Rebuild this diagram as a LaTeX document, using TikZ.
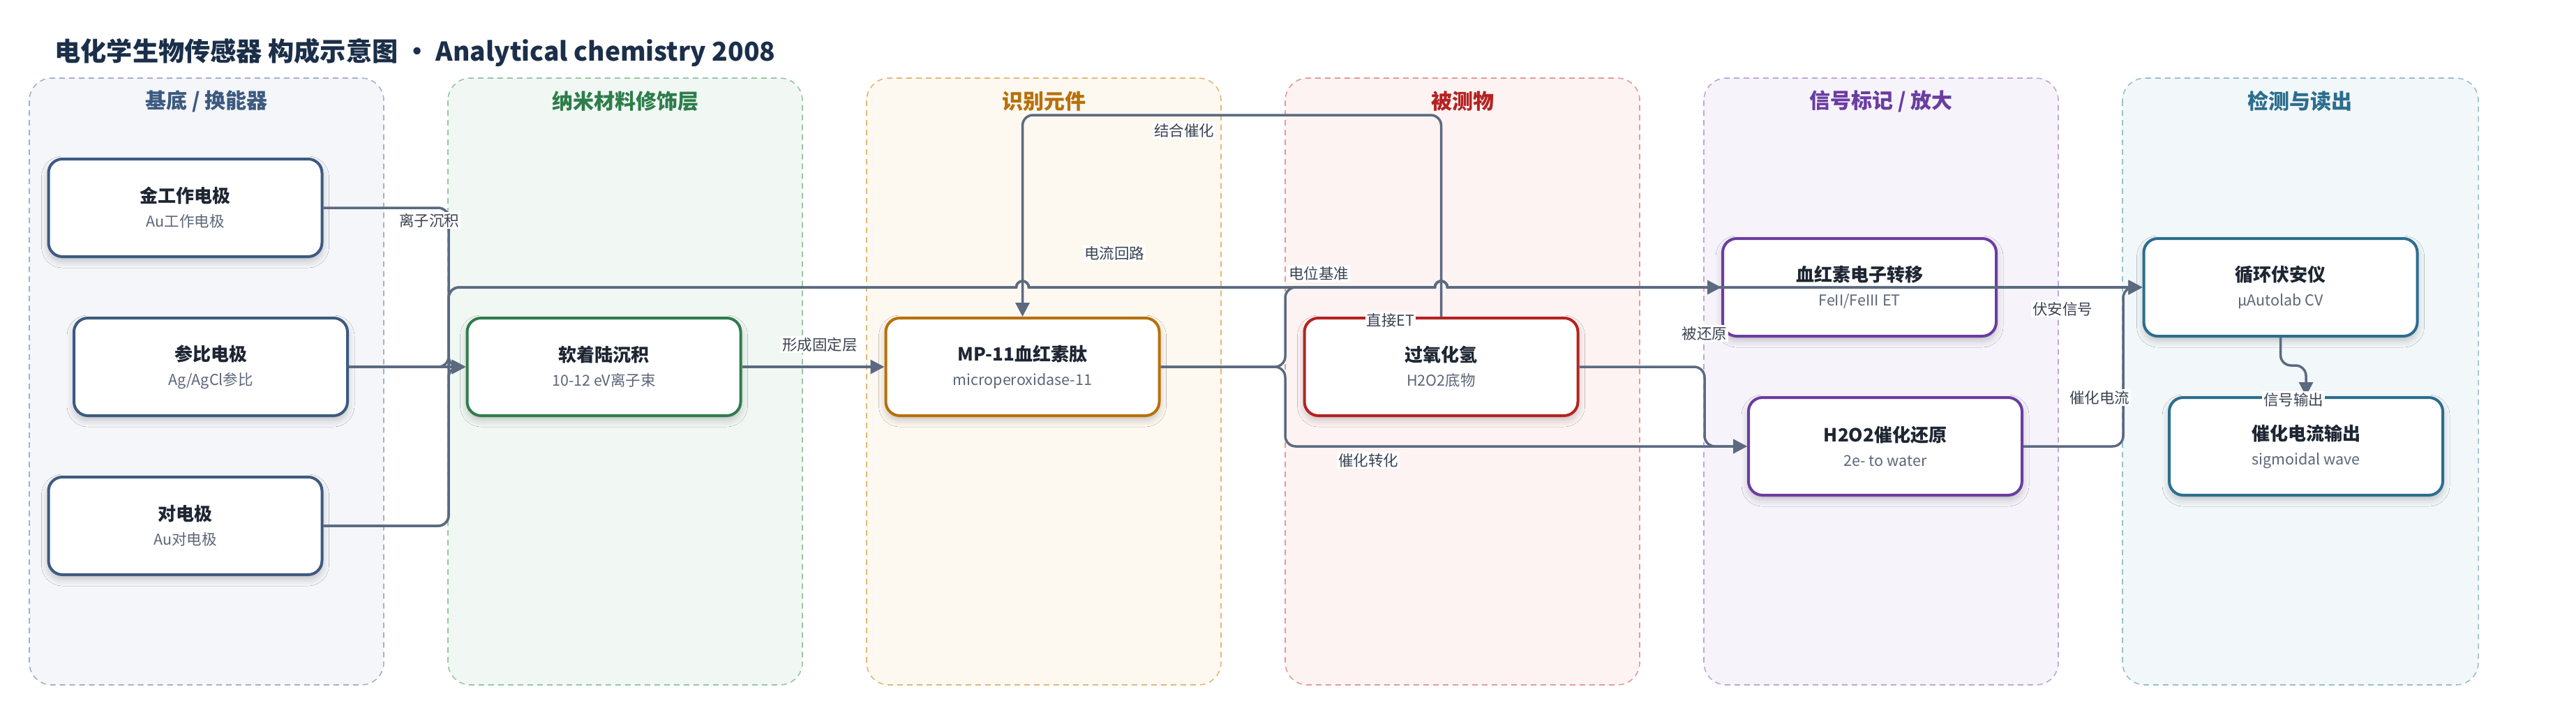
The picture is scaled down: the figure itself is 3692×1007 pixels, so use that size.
\documentclass[tikz,border=0pt]{standalone}
\usepackage{fontspec}
\setmainfont{Noto Sans CJK SC}
\usetikzlibrary{arrows.meta,shadows.blur}
\definecolor{ttl}{HTML}{1B2F4A}
\definecolor{ntc}{HTML}{1E2633}
\definecolor{nsc}{HTML}{5B6678}
\definecolor{labc}{HTML}{3A4352}
\definecolor{edgec}{HTML}{5B6A80}
% lanes: fill, border, title/node colour
\definecolor{fA}{HTML}{F4F6FA}\definecolor{bA}{HTML}{A3B1C8}\definecolor{tA}{HTML}{3D5A80}
\definecolor{fB}{HTML}{F1F8F4}\definecolor{bB}{HTML}{96C6A6}\definecolor{tB}{HTML}{2E7D4B}
\definecolor{fC}{HTML}{FDF8F0}\definecolor{bC}{HTML}{E2B878}\definecolor{tC}{HTML}{B8700A}
\definecolor{fD}{HTML}{FDF3F2}\definecolor{bD}{HTML}{E49A9A}\definecolor{tD}{HTML}{B52222}
\definecolor{fE}{HTML}{F6F3FB}\definecolor{bE}{HTML}{BFA6DA}\definecolor{tE}{HTML}{6A3DA0}
\definecolor{fF}{HTML}{F2F7F9}\definecolor{bF}{HTML}{98BFCE}\definecolor{tF}{HTML}{2B6E8E}
\newcommand\ntl[1]{{\fontsize{13}{17.5}\selectfont\bfseries\color{ntc}#1}}
\newcommand\nsub[1]{{\fontsize{10.75}{17.5}\selectfont\color{nsc}#1}}
\begin{document}
\begin{tikzpicture}[x=0.5pt,y=-0.5pt,
  lanebox/.style={dash pattern=on 4pt off 3pt, line width=0.8pt, rounded corners=16pt},
  lanetitle/.style={font=\fontsize{15}{18}\selectfont\bfseries},
  nd/.style={draw, line width=2pt, rounded corners=10pt, fill=white,
    minimum width=196pt, minimum height=70pt, align=center, inner sep=0pt,
    font=\fontsize{10.75}{17.5}\selectfont,
    blur shadow={shadow xshift=0pt, shadow yshift=-3pt, shadow blur radius=5pt, shadow opacity=22}},
  edge/.style={draw=edgec, line width=1.75pt, -{Triangle[length=10pt,width=10pt]}},
  rc/.style={rounded corners=7.5pt},
  lbl/.style={fill=white, inner sep=1pt, text=labc, font=\fontsize{10.75}{12}\selectfont}
]
\useasboundingbox (0,0) rectangle (3692,1007);

% title
\node[anchor=west, inner sep=0pt, text=ttl, font=\fontsize{18.6}{22}\selectfont\bfseries] (title) at (78,75)
  {电化学生物传感器 构成示意图 · Analytical chemistry 2008};

% lanes
\draw[lanebox, fill=fA, draw=bA] (42,112) rectangle (550,982);
\draw[lanebox, fill=fB, draw=bB] (642,112) rectangle (1150,982);
\draw[lanebox, fill=fC, draw=bC] (1242,112) rectangle (1750,982);
\draw[lanebox, fill=fD, draw=bD] (1842,112) rectangle (2350,982);
\draw[lanebox, fill=fE, draw=bE] (2442,112) rectangle (2950,982);
\draw[lanebox, fill=fF, draw=bF] (3042,112) rectangle (3552,982);
\node[lanetitle, text=tA] (la) at (296,145) {基底 / 换能器};
\node[lanetitle, text=tB] (lb) at (896,145) {纳米材料修饰层};
\node[lanetitle, text=tC] (lc) at (1496,145) {识别元件};
\node[lanetitle, text=tD] (ld) at (2096,145) {被测物};
\node[lanetitle, text=tE] (le) at (2696,145) {信号标记 / 放大};
\node[lanetitle, text=tF] (lf) at (3296,145) {检测与读出};

% nodes
\node[nd, draw=tA] (jin) at (265.5,298) {\ntl{金工作电极}\\\nsub{Au工作电极}};
\node[nd, draw=tA] (can) at (302,526) {\ntl{参比电极}\\\nsub{Ag/AgCl参比}};
\node[nd, draw=tA] (dui) at (265.5,754) {\ntl{对电极}\\\nsub{Au对电极}};
\node[nd, draw=tB] (ruan) at (865.5,526) {\ntl{软着陆沉积}\\\nsub{10-12 eV离子束}};
\node[nd, draw=tC] (mp) at (1465.5,526) {\ntl{MP-11血红素肽}\\\nsub{microperoxidase-11}};
\node[nd, draw=tD] (gy) at (2065.5,526) {\ntl{过氧化氢}\\\nsub{H2O2底物}};
\node[nd, draw=tE] (xhs) at (2665,412) {\ntl{血红素电子转移}\\\nsub{FeII/FeIII ET}};
\node[nd, draw=tE] (hr) at (2702,640) {\ntl{H2O2催化还原}\\\nsub{2e- to water}};
\node[nd, draw=tF] (xh) at (3268.5,412) {\ntl{循环伏安仪}\\\nsub{µAutolab CV}};
\node[nd, draw=tF] (out) at (3305,640) {\ntl{催化电流输出}\\\nsub{sigmoidal wave}};

% connectors
\draw[edge, rc] (jin.east) -- (643,298) -- (643,526) -- (ruan.west);
\draw[edge] (can.east) -- (ruan.west);
\draw[edge, rc] (dui.east) -- (643,754) -- (643,526) -- (ruan.west);
\draw[edge] (ruan.east) -- (mp.west);
\draw[edge, rc] (gy.north) -- (2065.5,165) -- (1465.5,165) -- (mp.north);
\draw[edge, rc] (mp.east) -- (1842,526) -- (1842,640) -- (hr.west);
\draw[edge, rc] (gy.east) -- (2443,526) -- (2443,640) -- (hr.west);
\draw[edge] (xhs.east) -- (xh.west);
\draw[edge, rc] (hr.east) -- (3043,640) -- (3043,412) -- (xh.west);
\draw[edge, rc] (xh.south) -- (3268.5,524) -- (3305,524) -- (out.north);
\draw[edge] (mp.east) [rounded corners=7.5pt] -- (1842,526) -- (1842,412) -- (1950,412) [sharp corners]
  -- (2056.5,412) arc[start angle=180, end angle=0, radius=4.5pt] -- (xhs.west);
\draw[edge] (can.east) [rounded corners=7.5pt] -- (643,526) -- (643,412) -- (1000,412) [sharp corners]
  -- (1456.5,412) arc[start angle=180, end angle=0, radius=4.5pt]
  -- (2056.5,412) arc[start angle=180, end angle=0, radius=4.5pt] -- (xh.west);
\draw[edge] (dui.east) [rounded corners=7.5pt] -- (643,754) -- (643,412) -- (1000,412) [sharp corners]
  -- (1456.5,412) arc[start angle=180, end angle=0, radius=4.5pt]
  -- (2056.5,412) arc[start angle=180, end angle=0, radius=4.5pt] -- (xh.west);

% connector labels
\node[lbl] (t1) at (615,316) {离子沉积};
\node[lbl] (t2) at (1175,494) {形成固定层};
\node[lbl] (t3) at (1697,187) {结合催化};
\node[lbl] (t4) at (1597,363) {电流回路};
\node[lbl] (t5) at (1890,392) {电位基准};
\node[lbl] (t6) at (1993,459) {直接ET};
\node[lbl] (t7) at (1961,660) {催化转化};
\node[lbl] (t8) at (2443,478) {被还原};
\node[lbl] (t9) at (2956,443) {伏安信号};
\node[lbl] (t10) at (3009,570) {催化电流};
\node[lbl] (t11) at (3287,573) {信号输出};
\end{tikzpicture}
\end{document}
